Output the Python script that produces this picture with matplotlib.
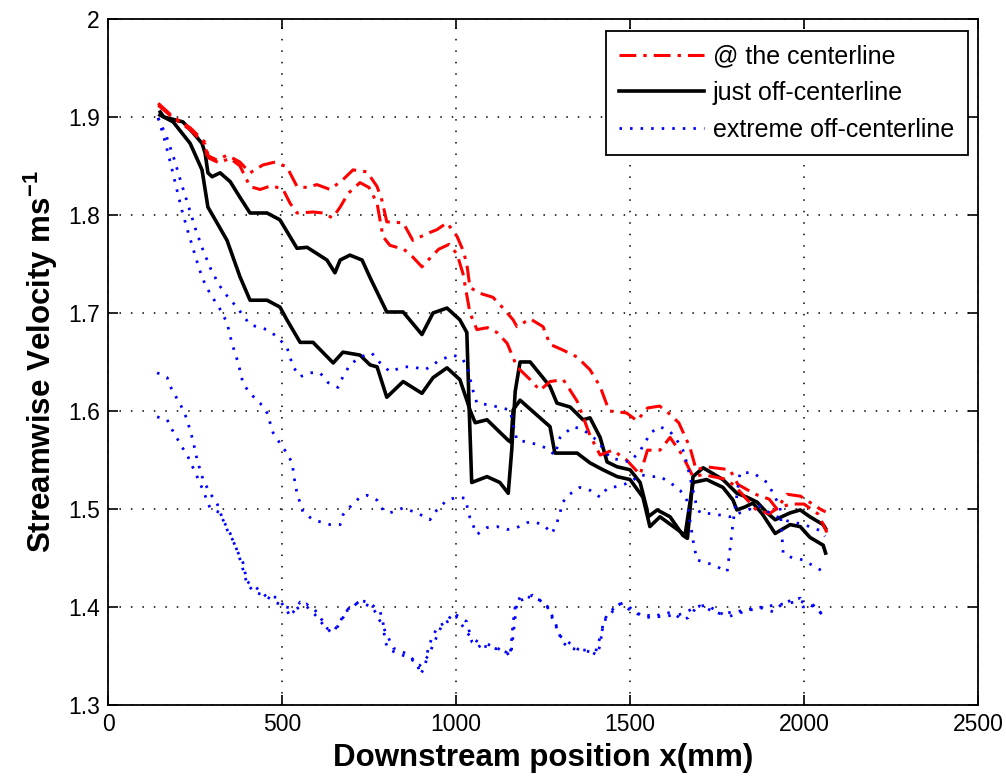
import matplotlib
matplotlib.use('Agg')
import matplotlib.pyplot as plt
from matplotlib.lines import Line2D

plt.rcParams['font.family'] = ['Liberation Sans', 'DejaVu Sans']
plt.rcParams['mathtext.fontset'] = 'custom'
plt.rcParams['mathtext.rm'] = 'Liberation Sans'
plt.rcParams['mathtext.bf'] = 'Liberation Sans:bold'

# ----- data -----

# @ the centerline (two traces, red dash-dot)
red1_x = [144, 187, 236, 279, 284, 313, 342, 379, 408, 445, 480, 514, 543, 572, 600, 638,
          675, 704, 744, 773, 787, 801, 848, 876, 917, 945, 974, 1003, 1020, 1031, 1040,
          1069, 1106, 1135, 1164, 1175, 1213, 1250, 1270, 1308, 1348, 1385, 1414, 1440,
          1490, 1520, 1550, 1585, 1610, 1640, 1672, 1690, 1720, 1787, 1810, 1860, 1900,
          1922, 1951, 1990, 2046, 2062]
red1_y = [1.914, 1.900, 1.889, 1.874, 1.861, 1.856, 1.861, 1.854, 1.843, 1.851, 1.854, 1.849,
          1.829, 1.828, 1.831, 1.826, 1.836, 1.846, 1.844, 1.829, 1.815, 1.793, 1.792, 1.774,
          1.781, 1.785, 1.792, 1.778, 1.764, 1.750, 1.726, 1.720, 1.716, 1.705, 1.693, 1.686,
          1.694, 1.686, 1.668, 1.662, 1.655, 1.642, 1.625, 1.600, 1.598, 1.590, 1.603, 1.605,
          1.598, 1.588, 1.563, 1.540, 1.543, 1.540, 1.525, 1.515, 1.510, 1.500, 1.515, 1.513,
          1.500, 1.497]

red2_x = [144, 187, 236, 279, 290, 320, 350, 379, 408, 437, 470, 503, 523, 543, 589, 618,
          645, 667, 690, 724, 750, 773, 790, 810, 850, 876, 902, 920, 950, 980, 1003, 1020,
          1040, 1060, 1090, 1118, 1147, 1175, 1213, 1241, 1270, 1308, 1348, 1385, 1414, 1450,
          1490, 1529, 1550, 1586, 1615, 1650, 1681, 1710, 1780, 1810, 1860, 1900, 1920, 1960,
          2000, 2040, 2066]
red2_y = [1.912, 1.899, 1.887, 1.872, 1.858, 1.853, 1.858, 1.850, 1.829, 1.826, 1.830, 1.826,
          1.812, 1.802, 1.803, 1.802, 1.797, 1.808, 1.822, 1.833, 1.828, 1.812, 1.778, 1.769,
          1.765, 1.757, 1.747, 1.754, 1.765, 1.770, 1.760, 1.740, 1.700, 1.683, 1.685, 1.680,
          1.669, 1.645, 1.632, 1.621, 1.630, 1.632, 1.610, 1.575, 1.555, 1.560, 1.550, 1.535,
          1.560, 1.560, 1.573, 1.555, 1.533, 1.535, 1.530, 1.520, 1.500, 1.495, 1.500, 1.505,
          1.505, 1.495, 1.476]

# just off-centerline (two traces, black solid)
black1_x = [150, 160, 215, 244, 270, 279, 287, 299, 322, 351, 379, 408, 457, 494, 543, 572,
            629, 652, 667, 695, 730, 753, 801, 848, 902, 934, 974, 1011, 1031, 1038, 1045,
            1089, 1126, 1150, 1160, 1170, 1184, 1213, 1270, 1290, 1328, 1365, 1385, 1414,
            1434, 1463, 1500, 1529, 1549, 1552, 1578, 1615, 1652, 1665, 1681, 1710, 1767,
            1807, 1836, 1865, 1894, 1917, 1960, 1989, 2017, 2055, 2062]
black1_y = [1.905, 1.900, 1.895, 1.884, 1.873, 1.863, 1.843, 1.839, 1.843, 1.834, 1.818, 1.802,
            1.802, 1.795, 1.766, 1.767, 1.754, 1.741, 1.754, 1.759, 1.754, 1.736, 1.701, 1.701,
            1.678, 1.700, 1.705, 1.693, 1.680, 1.600, 1.527, 1.533, 1.527, 1.516, 1.560, 1.620,
            1.650, 1.650, 1.625, 1.608, 1.604, 1.591, 1.593, 1.573, 1.548, 1.543, 1.540, 1.527,
            1.499, 1.492, 1.499, 1.492, 1.473, 1.470, 1.533, 1.542, 1.530, 1.516, 1.512, 1.507,
            1.496, 1.489, 1.496, 1.499, 1.492, 1.484, 1.480]

black2_x = [149, 187, 236, 270, 287, 313, 342, 379, 408, 457, 494, 514, 552, 589, 647, 675,
            724, 753, 773, 801, 848, 902, 934, 974, 1011, 1031, 1040, 1055, 1089, 1150, 1158,
            1164, 1184, 1270, 1284, 1348, 1385, 1422, 1463, 1500, 1537, 1557, 1586, 1644, 1658,
            1681, 1720, 1767, 1796, 1807, 1830, 1853, 1880, 1917, 1960, 1989, 2017, 2055, 2062]
black2_y = [1.902, 1.895, 1.873, 1.846, 1.808, 1.792, 1.774, 1.737, 1.713, 1.713, 1.706, 1.693,
            1.670, 1.670, 1.649, 1.660, 1.657, 1.647, 1.645, 1.614, 1.630, 1.618, 1.634, 1.644,
            1.632, 1.611, 1.601, 1.588, 1.591, 1.570, 1.568, 1.601, 1.611, 1.584, 1.557, 1.557,
            1.547, 1.540, 1.533, 1.530, 1.512, 1.482, 1.492, 1.477, 1.473, 1.527, 1.530, 1.522,
            1.509, 1.499, 1.502, 1.506, 1.495, 1.475, 1.484, 1.482, 1.471, 1.463, 1.455]

# extreme off-centerline (four traces, blue dotted)
blue1_x = [144, 168, 190, 210, 232, 252, 272, 295, 320, 345, 370, 408, 457, 485, 514, 532,
           552, 580, 609, 632, 661, 675, 695, 724, 758, 782, 810, 848, 876, 911, 954, 991,
           1017, 1034, 1046, 1060, 1098, 1155, 1175, 1213, 1261, 1284, 1299, 1336, 1365, 1405,
           1443, 1471, 1500, 1530, 1560, 1586, 1615, 1635, 1652, 1663, 1672, 1690, 1701, 1740,
           1787, 1830, 1870, 1910, 1950, 2000, 2046, 2060]
blue1_y = [1.899, 1.880, 1.857, 1.833, 1.808, 1.785, 1.765, 1.745, 1.728, 1.716, 1.706, 1.688,
           1.683, 1.676, 1.665, 1.645, 1.635, 1.639, 1.639, 1.629, 1.624, 1.635, 1.647, 1.655,
           1.659, 1.649, 1.640, 1.645, 1.645, 1.642, 1.652, 1.657, 1.654, 1.644, 1.624, 1.608,
           1.606, 1.601, 1.570, 1.568, 1.562, 1.555, 1.573, 1.584, 1.581, 1.570, 1.552, 1.550,
           1.548, 1.560, 1.578, 1.584, 1.579, 1.570, 1.560, 1.547, 1.533, 1.505, 1.496, 1.495,
           1.492, 1.498, 1.503, 1.494, 1.488, 1.484, 1.478, 1.472]

blue2_x = [144, 160, 178, 195, 212, 228, 245, 262, 280, 300, 320, 342, 356, 374, 388, 408,
           437, 457, 474, 494, 514, 529, 537, 543, 552, 560, 589, 638, 667, 675, 695, 724,
           744, 773, 790, 810, 848, 888, 925, 945, 974, 1003, 1026, 1040, 1060, 1089, 1118,
           1147, 1175, 1204, 1221, 1250, 1276, 1290, 1299, 1305, 1322, 1356, 1385, 1414, 1434,
           1463, 1500, 1529, 1557, 1586, 1615, 1644, 1663, 1672, 1681, 1692, 1739, 1779, 1787,
           1796, 1805, 1816, 1853, 1894, 1911, 1931, 1940, 1960, 1997, 2046, 2060]
blue2_y = [1.899, 1.880, 1.855, 1.830, 1.805, 1.785, 1.765, 1.745, 1.728, 1.716, 1.705, 1.690,
           1.669, 1.649, 1.628, 1.618, 1.608, 1.598, 1.578, 1.567, 1.557, 1.547, 1.527, 1.516,
           1.506, 1.497, 1.489, 1.484, 1.484, 1.494, 1.502, 1.512, 1.514, 1.509, 1.499, 1.496,
           1.501, 1.496, 1.489, 1.499, 1.509, 1.512, 1.511, 1.491, 1.474, 1.481, 1.482, 1.479,
           1.481, 1.486, 1.487, 1.484, 1.475, 1.486, 1.496, 1.506, 1.514, 1.522, 1.519, 1.512,
           1.521, 1.523, 1.527, 1.535, 1.533, 1.533, 1.527, 1.519, 1.509, 1.489, 1.468, 1.448,
           1.443, 1.436, 1.458, 1.486, 1.509, 1.537, 1.537, 1.527, 1.516, 1.502, 1.455, 1.451,
           1.448, 1.438, 1.435]

blue3_x = [141, 170, 184, 201, 216, 227, 244, 256, 273, 293, 313, 330, 351, 370, 388, 399,
           428, 457, 485, 514, 523, 552, 572, 595, 618, 644, 667, 681, 704, 724, 753, 782,
           790, 796, 810, 859, 888, 897, 911, 919, 931, 948, 974, 991, 1031, 1046, 1063, 1083,
           1112, 1147, 1155, 1164, 1170, 1184, 1213, 1241, 1264, 1284, 1305, 1328, 1356, 1379,
           1405, 1414, 1422, 1434, 1463, 1480, 1509, 1537, 1566, 1595, 1624, 1649, 1667, 1692,
           1721, 1753, 1782, 1816, 1845, 1882, 1911, 1940, 1966, 1989, 1997, 2026, 2046, 2060]
blue3_y = [1.639, 1.634, 1.621, 1.611, 1.601, 1.591, 1.570, 1.550, 1.530, 1.516, 1.506, 1.489,
           1.475, 1.458, 1.445, 1.426, 1.419, 1.410, 1.410, 1.397, 1.390, 1.405, 1.400, 1.392,
           1.382, 1.373, 1.385, 1.395, 1.400, 1.407, 1.404, 1.395, 1.385, 1.364, 1.356, 1.349,
           1.343, 1.331, 1.339, 1.356, 1.369, 1.380, 1.385, 1.394, 1.385, 1.364, 1.359, 1.363,
           1.359, 1.353, 1.349, 1.384, 1.400, 1.410, 1.410, 1.407, 1.400, 1.385, 1.364, 1.358,
           1.356, 1.356, 1.351, 1.361, 1.382, 1.392, 1.402, 1.404, 1.397, 1.390, 1.389, 1.394,
           1.394, 1.387, 1.389, 1.400, 1.402, 1.395, 1.390, 1.394, 1.397, 1.399, 1.395, 1.404,
           1.407, 1.409, 1.400, 1.402, 1.395, 1.387]

blue4_x = [141, 170, 184, 213, 230, 256, 273, 293, 322, 342, 359, 374, 388, 399, 420, 450,
           480, 510, 540, 570, 600, 630, 660, 690, 720, 760, 790, 820, 860, 895, 920, 960,
           1000, 1040, 1080, 1120, 1158, 1175, 1220, 1260, 1300, 1350, 1400, 1430, 1470, 1520,
           1580, 1640, 1700, 1760, 1820, 1880, 1940, 1990, 2030, 2060]
blue4_y = [1.594, 1.591, 1.581, 1.563, 1.553, 1.533, 1.519, 1.501, 1.496, 1.479, 1.468, 1.455,
           1.438, 1.424, 1.415, 1.412, 1.405, 1.400, 1.398, 1.403, 1.395, 1.378, 1.380, 1.398,
           1.405, 1.400, 1.380, 1.358, 1.352, 1.340, 1.350, 1.382, 1.390, 1.370, 1.360, 1.357,
           1.352, 1.405, 1.412, 1.402, 1.370, 1.357, 1.353, 1.388, 1.403, 1.393, 1.390, 1.392,
           1.401, 1.393, 1.396, 1.400, 1.403, 1.406, 1.400, 1.390]

legend_labels = ['@ the centerline', 'just off-centerline', 'extreme off-centerline']
x_ticks = [0, 500, 1000, 1500, 2000, 2500]
y_ticks = [1.3, 1.4, 1.5, 1.6, 1.7, 1.8, 1.9, 2.0]
y_tick_labels = ['1.3', '1.4', '1.5', '1.6', '1.7', '1.8', '1.9', '2']

# ----- styles -----
red_style = dict(color='#ff0000', lw=2.2, ls=(0, (5.5, 2.3, 1.1, 2.3)))
black_style = dict(color='black', lw=2.6, ls='-')
blue_style = dict(color='#0000ff', lw=2.0, ls=(0, (0.9, 2.9)))

fig = plt.figure(figsize=(10.06, 7.8), dpi=100)
ax = fig.add_axes([0.1074, 0.0962, 0.8648, 0.8795])

ax.plot(black1_x, black1_y, **black_style)
ax.plot(black2_x, black2_y, **black_style)
ax.plot(red1_x, red1_y, **red_style)
ax.plot(red2_x, red2_y, **red_style)
ax.plot(blue1_x, blue1_y, **blue_style)
ax.plot(blue2_x, blue2_y, **blue_style)
ax.plot(blue3_x, blue3_y, **blue_style)
ax.plot(blue4_x, blue4_y, **blue_style)

ax.set_xlim(0, 2500)
ax.set_ylim(1.3, 2.0)
ax.set_xticks(x_ticks)
ax.set_yticks(y_ticks)
ax.set_yticklabels(y_tick_labels)
ax.tick_params(direction='in', top=True, right=True, length=7, width=1.2,
               labelsize=16.5, pad=6)
ax.grid(True, color='black', ls=(0, (1.0, 6.5)), lw=1.1)
for sp in ax.spines.values():
    sp.set_linewidth(1.3)

ax.set_xlabel('Downstream position x(mm)', fontsize=22.5, fontweight='bold', labelpad=5)
ax.set_ylabel(r'Streamwise Velocity ms$^{\mathbf{-1}}$', fontsize=22.5,
              fontweight='bold', labelpad=6)

handles = [Line2D([], [], **red_style), Line2D([], [], **black_style),
           Line2D([], [], **blue_style)]
leg = ax.legend(handles, legend_labels, loc='upper right',
                bbox_to_anchor=(0.9885, 0.9825), borderaxespad=0, fontsize=18,
                handlelength=3.4, handletextpad=0.35, labelspacing=0.5,
                borderpad=0.55, fancybox=False, framealpha=1, edgecolor='black')
leg.get_frame().set_linewidth(1.3)

fig.savefig('out.png', dpi=100)
